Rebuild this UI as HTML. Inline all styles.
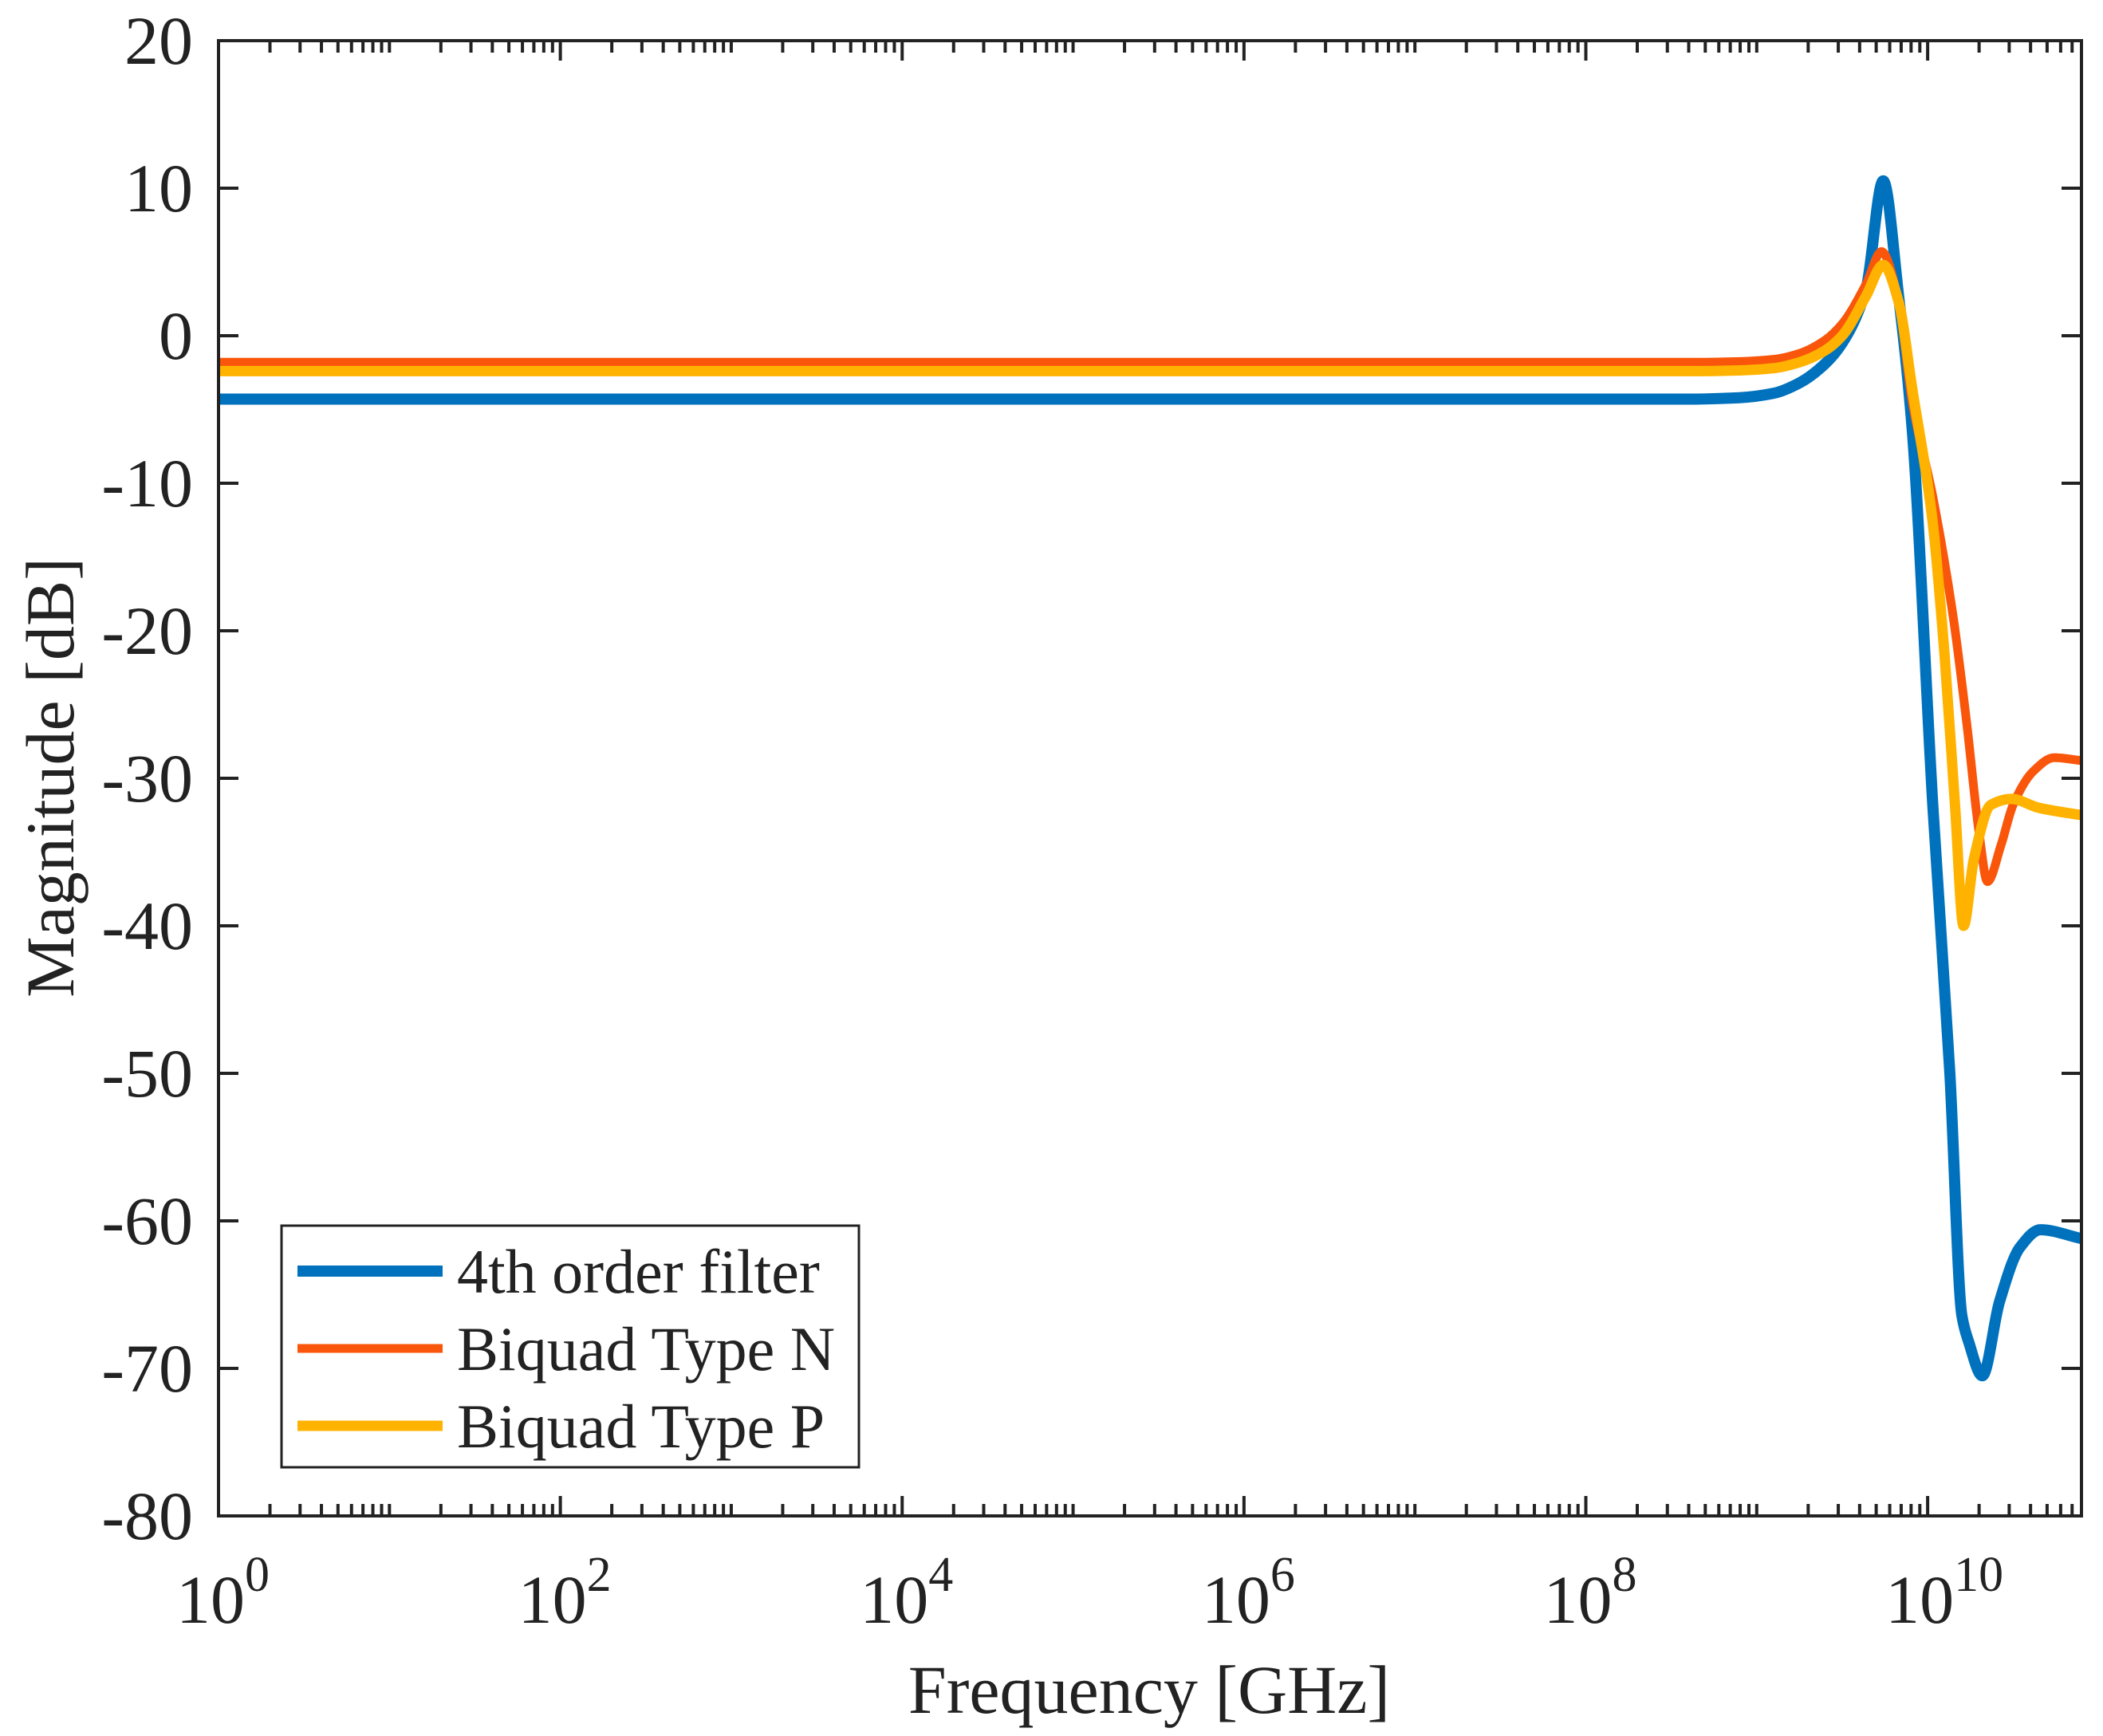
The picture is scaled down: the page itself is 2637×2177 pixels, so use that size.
<!DOCTYPE html>
<html><head><meta charset="utf-8"><style>
body{margin:0;background:#fff}
svg{display:block;font-family:"Liberation Serif",serif}
</style></head><body>
<svg id="chart" width="2637" height="2177" viewBox="0 0 2637 2177">
<rect width="2637" height="2177" fill="#fff"/>
<g id="series"></g>
<g id="axes"></g>
<g id="legend"></g>
</svg>
<script>
// data: log10(frequency) and magnitude in dB
const blueX=[0,2,4,6,8,8.6,8.9,9.1,9.25,9.4,9.5,9.64,9.74,9.83,9.91,10.03,10.13,10.2,10.24,10.32,10.42,10.54,10.66,10.9];
const blueY=[-4.3,-4.3,-4.3,-4.3,-4.3,-4.3,-4.2,-3.9,-3.2,-1.9,-0.5,3.2,10.5,2.7,-6.4,-31.8,-50,-66.4,-68.2,-70.5,-65.5,-61.8,-60.6,-61.2];
const orangeX=[0,2,4,6,8,8.6,8.9,9.1,9.25,9.4,9.5,9.64,9.73,9.83,9.91,10.03,10.15,10.23,10.3,10.35,10.43,10.5,10.62,10.74,10.9];
const orangeY=[-1.8,-1.8,-1.8,-1.8,-1.8,-1.8,-1.75,-1.6,-1.2,-0.3,0.8,3.5,5.7,2.3,-4.5,-10.9,-19.1,-26.4,-33.6,-37,-34.5,-31.8,-29.5,-28.6,-28.8];
const yellowX=[0,2,4,6,8,8.6,8.9,9.1,9.25,9.4,9.5,9.64,9.74,9.83,9.91,10.03,10.1,10.16,10.21,10.27,10.37,10.49,10.65,10.9];
const yellowY=[-2.4,-2.4,-2.4,-2.4,-2.4,-2.4,-2.35,-2.2,-1.8,-1.0,0,2.7,4.8,2.3,-3.6,-12.7,-21.8,-31.8,-40,-35.5,-31.8,-31.4,-32,-32.5];
const yTicks=[20,10,0,-10,-20,-30,-40,-50,-60,-70,-80];
const xTicks=[0,2,4,6,8,10];
const seriesNames=["4th order filter","Biquad Type N","Biquad Type P"];

const L=274,R=2610,T=51,B=1901,XMAX=10.9;
const NS="http://www.w3.org/2000/svg";
function sx(d){return L+(d/XMAX)*(R-L);}
function sy(v){return T+(20-v)/100*(B-T);}
function mk(tag,attrs,parent){const e=document.createElementNS(NS,tag);for(const k in attrs)e.setAttribute(k,attrs[k]);parent.appendChild(e);return e;}
const S=document.getElementById('series'),A=document.getElementById('axes'),G=document.getElementById('legend');

function smoothPath(xs,ys){
  const n=xs.length,dl=[],m=[];
  for(let i=0;i<n-1;i++)dl.push((ys[i+1]-ys[i])/(xs[i+1]-xs[i]));
  m[0]=dl[0];m[n-1]=dl[n-2];
  for(let i=1;i<n-1;i++){
    if(dl[i-1]*dl[i]<=0)m[i]=0;
    else{const w1=2*(xs[i+1]-xs[i])+(xs[i]-xs[i-1]),w2=(xs[i+1]-xs[i])+2*(xs[i]-xs[i-1]);m[i]=(w1+w2)/(w1/dl[i-1]+w2/dl[i]);}
  }
  let d="M"+sx(xs[0])+","+sy(ys[0]);
  for(let i=0;i<n-1;i++){
    const h=xs[i+1]-xs[i];
    d+=" C"+sx(xs[i]+h/3)+","+sy(ys[i]+m[i]*h/3)+" "+sx(xs[i+1]-h/3)+","+sy(ys[i+1]-m[i+1]*h/3)+" "+sx(xs[i+1])+","+sy(ys[i+1]);
  }
  return d;
}
const cols=["#0072BD","#F9560B","#FFB300"];
const widths=[14,11,13];
const data=[[blueX,blueY],[orangeX,orangeY],[yellowX,yellowY]];
const keys=['line-4th-order-filter','line-biquad-type-n','line-biquad-type-p'];
data.forEach((dd,i)=>{
  const el=mk('path',{d:smoothPath(dd[0],dd[1]),fill:'none',stroke:cols[i],'stroke-width':widths[i],'stroke-linejoin':'round'},S);
  
  
});

const fr=mk('rect',{x:L,y:T,width:R-L,height:B-T,fill:'none',stroke:'#222','stroke-width':4},A);



yTicks.forEach(v=>{
  const y=sy(v);
  mk('line',{x1:L,x2:L+25,y1:y,y2:y,stroke:'#222','stroke-width':4},A);
  mk('line',{x1:R-25,x2:R,y1:y,y2:y,stroke:'#222','stroke-width':4},A);
  const t=mk('text',{x:242,y:y+29,'text-anchor':'end','font-size':86,fill:'#222'},A);
  t.textContent=String(v);
  
  
});
for(let dec=0;dec<=10;dec++){
  for(let k=1;k<10;k++){
    const d=dec+Math.log10(k); if(d>XMAX)break;
    const x=sx(d),len=(k===1&&xTicks.includes(dec))?25:15;
    mk('line',{x1:x,x2:x,y1:B,y2:B-len,stroke:'#222','stroke-width':4},A);
    mk('line',{x1:x,x2:x,y1:T,y2:T+len,stroke:'#222','stroke-width':4},A);
  }
}
xTicks.forEach(dec=>{
  const x=sx(dec);
  const t=mk('text',{x:x-10,y:2035,'text-anchor':'middle','font-size':86,fill:'#222'},A);
  t.textContent='10';
  
  
  const s=mk('text',{x:x+33,y:1995,'text-anchor':'start','font-size':62,fill:'#222'},A);
  s.textContent=String(dec);
  
  
});
const xt=mk('text',{x:1441,y:2148,'text-anchor':'middle','font-size':86,fill:'#222'},A);
xt.textContent='Frequency [GHz]';


const yt=mk('text',{x:0,y:0,'text-anchor':'middle','font-size':86,fill:'#222',transform:'translate(92,975) rotate(-90)'},A);
yt.textContent='Magnitude [dB]';



const lb=mk('rect',{x:353,y:1537,width:724,height:303,fill:'#fff',stroke:'#222','stroke-width':3},G);


seriesNames.forEach((n,i)=>{
  const y=1594+i*97;
  const ln=mk('line',{x1:373,x2:555,y1:y,y2:y,stroke:cols[i],'stroke-width':widths[i]},G);
  
  
  const t=mk('text',{x:573,y:y+27,'font-size':78,fill:'#222'},G);
  t.textContent=n;
  
  
});
</script>
</body></html>
